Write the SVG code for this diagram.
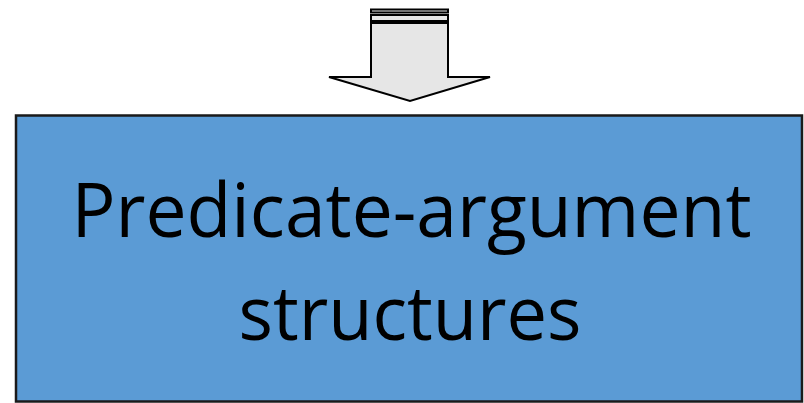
<svg xmlns="http://www.w3.org/2000/svg" width="804" height="403" viewBox="0 0 804 403">
  <style>
    .arrow { fill: #e6e6e6; stroke: #000; stroke-width: 2; stroke-linejoin: miter; }
    .box { fill: #5b9bd5; stroke: #1a1a1a; stroke-width: 2.5; }
    .label { font-family: "Open Sans", "Liberation Sans", sans-serif; font-size: 75px; fill: #000; text-anchor: middle; }
  </style>
  <rect width="804" height="403" fill="#ffffff"/>
  <g id="connectors">
    <!-- striped tail of the block arrow -->
    <rect class="arrow" x="371" y="9.5" width="77" height="3"/>
    <rect class="arrow" x="371" y="15" width="77" height="6"/>
    <!-- block arrow body and head -->
    <path class="arrow" d="M371 23 L448 23 L448 77 L490 77 L410 101 L329 77 L371 77 Z"/>
  </g>
  <g id="node-predicate-argument">
    <rect class="box" x="16" y="115.5" width="786" height="286"/>
    <text class="label" x="411.5" y="236.5" textLength="680" lengthAdjust="spacingAndGlyphs">Predicate-argument</text>
    <text class="label" x="410" y="340" textLength="343" lengthAdjust="spacingAndGlyphs">structures</text>
  </g>
</svg>
